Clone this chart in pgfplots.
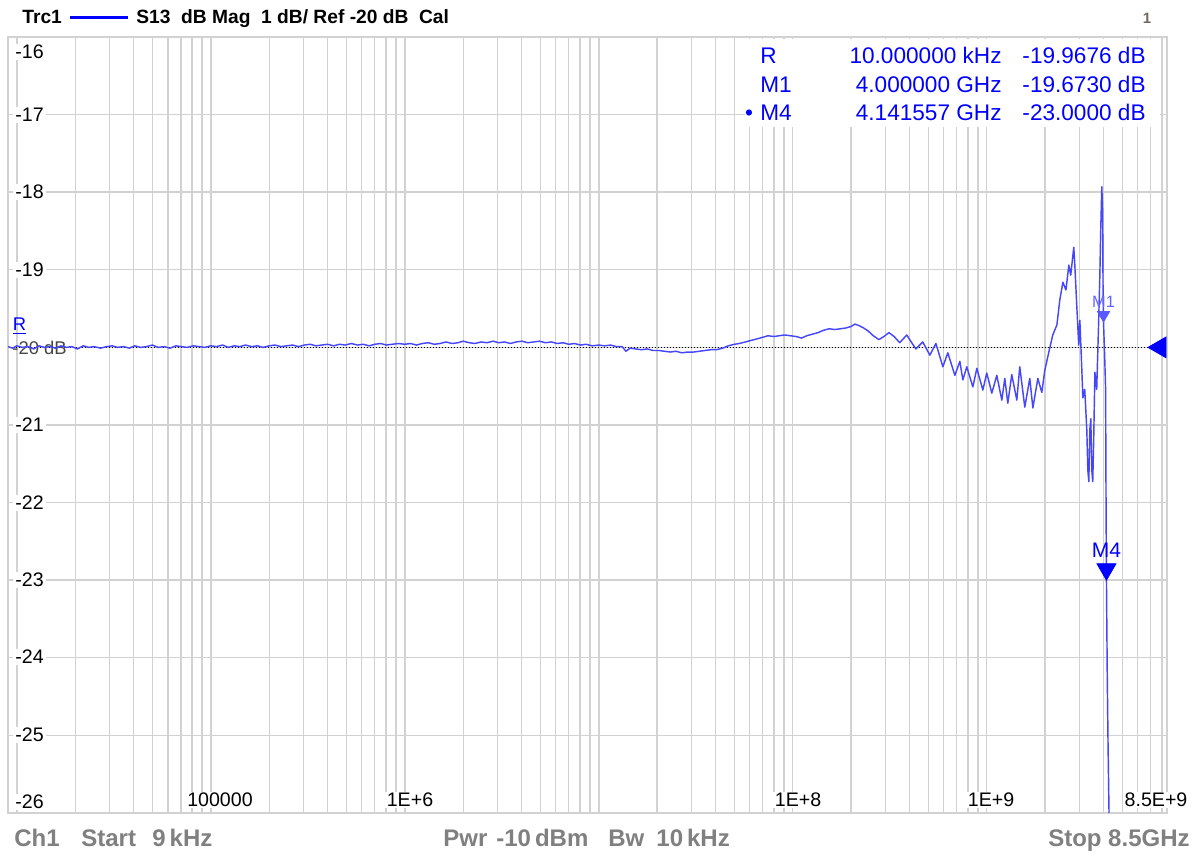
\documentclass[border=0pt]{standalone}
\usepackage{fontspec}
\setmainfont{Liberation Sans}
\usepackage{pgfplots}
\usepackage{pgfplotstable}
\pgfplotsset{compat=1.18}
\definecolor{trace}{RGB}{70,70,250}
\definecolor{mblue}{RGB}{0,0,255}
\definecolor{gridc}{RGB}{210,210,210}
\definecolor{botgray}{RGB}{128,128,128}
\definecolor{refgray}{RGB}{70,70,70}
\definecolor{chnum}{RGB}{115,105,95}

% S13 trace: frequency (Hz), magnitude (dB)
\pgfplotstableread{
f db
9e3 -19.99
9.5e3 -20.01
1.0e4 -19.98
1.07e4 -20.00
1.14e4 -19.99
1.22e4 -20.02
1.3e4 -19.98
1.39e4 -20.00
1.48e4 -19.99
1.58e4 -20.01
1.69e4 -19.98
1.8e4 -20.00
1.92e4 -19.99
2.05e4 -20.02
2.2e4 -19.98
2.35e4 -20.00
2.5e4 -19.99
2.7e4 -20.01
2.9e4 -19.99
3.1e4 -19.98
3.3e4 -20.00
3.55e4 -19.99
3.8e4 -20.01
4.05e4 -19.98
4.35e4 -20.00
4.65e4 -19.99
5.0e4 -19.97
5.35e4 -20.00
5.75e4 -19.99
6.15e4 -20.01
6.6e4 -19.98
7.05e4 -19.99
7.55e4 -20.00
8.1e4 -19.98
8.7e4 -19.99
9.3e4 -20.00
1.0e5 -19.98
1.07e5 -19.99
1.15e5 -19.97
1.23e5 -20.00
1.32e5 -19.98
1.41e5 -19.99
1.51e5 -19.97
1.62e5 -19.99
1.74e5 -19.98
1.86e5 -20.00
2.0e5 -19.98
2.14e5 -19.97
2.3e5 -19.99
2.46e5 -19.98
2.64e5 -19.97
2.83e5 -19.99
3.03e5 -19.97
3.25e5 -19.96
3.48e5 -19.98
3.73e5 -19.97
4.0e5 -19.96
4.3e5 -19.98
4.6e5 -19.96
4.93e5 -19.97
5.3e5 -19.95
5.7e5 -19.97
6.1e5 -19.96
6.55e5 -19.98
7.0e5 -19.96
7.5e5 -19.95
8.05e5 -19.97
8.6e5 -19.96
9.25e5 -19.95
1.0e6 -19.96
1.07e6 -19.95
1.15e6 -19.97
1.23e6 -19.95
1.32e6 -19.94
1.42e6 -19.96
1.52e6 -19.95
1.63e6 -19.93
1.75e6 -19.95
1.88e6 -19.94
2.0e6 -19.92
2.15e6 -19.94
2.3e6 -19.95
2.47e6 -19.93
2.65e6 -19.94
2.85e6 -19.92
3.05e6 -19.94
3.27e6 -19.93
3.5e6 -19.95
3.75e6 -19.93
4.02e6 -19.92
4.3e6 -19.94
4.62e6 -19.93
4.95e6 -19.92
5.3e6 -19.94
5.7e6 -19.93
6.1e6 -19.95
6.55e6 -19.94
7.0e6 -19.96
7.5e6 -19.95
8.05e6 -19.97
8.6e6 -19.96
9.25e6 -19.98
1.0e7 -19.97
1.07e7 -19.98
1.15e7 -19.97
1.23e7 -19.99
1.32e7 -19.99
1.38e7 -20.05
1.45e7 -20.01
1.55e7 -20.02
1.66e7 -20.03
1.78e7 -20.02
1.9e7 -20.04
2.04e7 -20.04
2.18e7 -20.05
2.34e7 -20.06
2.5e7 -20.05
2.68e7 -20.07
2.87e7 -20.06
3.08e7 -20.06
3.3e7 -20.05
3.53e7 -20.04
3.78e7 -20.03
4.05e7 -20.03
4.35e7 -20.01
4.65e7 -19.98
5.0e7 -19.96
5.3e7 -19.95
5.7e7 -19.93
6.1e7 -19.91
6.55e7 -19.89
7.0e7 -19.87
7.45e7 -19.85
8.0e7 -19.86
8.5e7 -19.85
9.1e7 -19.84
9.7e7 -19.85
1.04e8 -19.86
1.11e8 -19.88
1.18e8 -19.85
1.26e8 -19.83
1.35e8 -19.81
1.44e8 -19.78
1.54e8 -19.76
1.65e8 -19.77
1.76e8 -19.76
1.88e8 -19.75
2.0e8 -19.73
2.09e8 -19.70
2.2e8 -19.72
2.32e8 -19.75
2.45e8 -19.79
2.6e8 -19.85
2.78e8 -19.90
2.95e8 -19.86
3.13e8 -19.81
3.33e8 -19.86
3.56e8 -19.94
3.87e8 -19.84
4.08e8 -19.93
4.31e8 -20.02
4.68e8 -19.93
5.09e8 -20.10
5.47e8 -19.95
5.94e8 -20.25
6.30e8 -20.07
6.85e8 -20.36
7.27e8 -20.18
7.53e8 -20.42
7.89e8 -20.25
8.48e8 -20.51
8.89e8 -20.27
9.55e8 -20.55
1.0e9 -20.33
1.062e9 -20.59
1.127e9 -20.36
1.196e9 -20.68
1.239e9 -20.40
1.284e9 -20.72
1.346e9 -20.35
1.429e9 -20.68
1.480e9 -20.25
1.571e9 -20.77
1.667e9 -20.40
1.729e9 -20.78
1.834e9 -20.40
1.923e9 -20.58
1.991e9 -20.30
2.09e9 -20.06
2.19e9 -19.84
2.30e9 -19.71
2.38e9 -19.39
2.47e9 -19.16
2.56e9 -19.26
2.65e9 -18.94
2.71e9 -19.07
2.81e9 -18.71
2.84e9 -18.90
2.91e9 -19.45
2.98e9 -19.97
3.02e9 -19.65
3.09e9 -20.27
3.13e9 -20.65
3.20e9 -20.54
3.28e9 -21.06
3.32e9 -21.58
3.36e9 -21.73
3.40e9 -21.06
3.44e9 -20.92
3.48e9 -21.58
3.52e9 -21.73
3.56e9 -21.19
3.61e9 -20.32
3.69e9 -20.54
3.78e9 -19.62
3.83e9 -19.07
3.87e9 -18.49
3.92e9 -17.93
3.96e9 -18.26
3.98e9 -19.35
4.0e9 -19.673
4.06e9 -20.16
4.10e9 -20.54
4.12e9 -21.90
4.141557e9 -23.00
4.18e9 -24.20
4.22e9 -25.10
4.27e9 -26.00
4.35e9 -27.00
}\tracedata

\begin{document}
\begin{tikzpicture}[x=0.5pt,y=0.5pt]
\useasboundingbox (0,0) rectangle (1198,854);
\fill[white] (0,0) rectangle (1198,854);

\begin{axis}[
  at={(4pt,20.5pt)}, anchor=south west,
  scale only axis, width=579.5pt, height=388pt,
  xmode=log, xmin=9e3, xmax=8.5e9, ymin=-26, ymax=-16,
  xtick={1e4,1e5,1e6,1e7,1e8,1e9},
  minor xtick={2e4,3e4,4e4,5e4,6e4,7e4,8e4,9e4,
               2e5,3e5,4e5,5e5,6e5,7e5,8e5,9e5,
               2e6,3e6,4e6,5e6,6e6,7e6,8e6,9e6,
               2e7,3e7,4e7,5e7,6e7,7e7,8e7,9e7,
               2e8,3e8,4e8,5e8,6e8,7e8,8e8,9e8,
               2e9,3e9,4e9,5e9,6e9,7e9,8e9},
  ytick={-25,-24,-23,-22,-21,-20,-19,-18,-17},
  xticklabels={}, yticklabels={},
  major tick length=0pt, minor tick length=0pt,
  grid=both,
  major grid style={gridc, line width=0.7pt},
  minor grid style={gridc, line width=0.7pt},
  axis line style={gridc, line width=0.8pt},
]
\addplot[black, line width=0.45pt, dash pattern=on 0.6pt off 0.9pt] coordinates {(9.5e3,-20) (8.5e9,-20)};
\node[anchor=base west, inner sep=0pt, text=refgray, font=\fontsize{9.2}{10}\selectfont, xshift=2pt, yshift=-3.8pt] at (axis cs:9e3,-20) {-20 dB};
\node[anchor=base west, inner sep=0pt, text=mblue, font=\fontsize{9.2}{10}\selectfont, xshift=2.2pt, yshift=8.2pt] at (axis cs:9e3,-20) {\underline{R}};
\addplot[trace, line width=0.72pt, line join=round] table[x=f, y=db] {\tracedata};
\addplot[only marks, mark=triangle*, mark size=3.5pt, color=mblue!65, mark options={yshift=3.5pt, rotate=180}] coordinates {(4e9,-19.673)};
\addplot[only marks, mark=triangle*, mark size=5.5pt, color=mblue, mark options={yshift=5.5pt, rotate=180}] coordinates {(4.141557e9,-23)};
\addplot[only marks, mark=triangle*, mark size=6pt, color=mblue, mark options={xshift=-3.5pt, rotate=90}] coordinates {(8.5e9,-20)};
\node[text=mblue!60, inner sep=0pt, font=\fontsize{8.2}{9}\selectfont, yshift=10pt] at (axis cs:4e9,-19.673) {M1};
\node[text=mblue, inner sep=0pt, font=\fontsize{10.5}{12}\selectfont, yshift=15pt] at (axis cs:4.141557e9,-23) {M4};
\end{axis}

% header
\node[anchor=base west, inner sep=0pt, font=\fontsize{9.6}{11}\selectfont\bfseries] at (22,830) {Trc1};
\draw[mblue, line width=1.5pt] (70,836) -- (128,836);
\node[anchor=base west, inner sep=0pt, font=\fontsize{9.6}{11}\selectfont\bfseries] at (136,830) {S13\ \ dB Mag\ \ 1 dB/ Ref -20 dB\ \ Cal};
\node[anchor=base, inner sep=0pt, text=chnum, font=\fontsize{7.5}{9}\selectfont\bfseries] at (1147,830) {1};

% marker table
\fill[white] (745,727) rectangle (1160,815);
\begin{scope}[every node/.style={inner sep=0pt, text=mblue, font=\fontsize{11.3}{13}\selectfont}]
\node[anchor=base west] at (760,790) {R};
\node[anchor=base east] at (1002,790) {10.000000 kHz};
\node[anchor=base east] at (1146,790) {-19.9676 dB};
\node[anchor=base west] at (760,761) {M1};
\node[anchor=base east] at (1002,761) {4.000000 GHz};
\node[anchor=base east] at (1146,761) {-19.6730 dB};
\node[anchor=base] at (749,733) {•};
\node[anchor=base west] at (760,733) {M4};
\node[anchor=base east] at (1002,733) {4.141557 GHz};
\node[anchor=base east] at (1146,733) {-23.0000 dB};
\end{scope}

% y labels
\begin{scope}[every node/.style={anchor=west, fill=white, inner xsep=1pt, inner ysep=0.5pt, font=\fontsize{9.8}{11}\selectfont}]
\node at (13,802) {-16};
\node at (13,739) {-17};
\node at (13,662) {-18};
\node at (13,584) {-19};
\node at (13,429) {-21};
\node at (13,351) {-22};
\node at (13,274) {-23};
\node at (13,197) {-24};
\node at (13,119) {-25};
\node at (13,52) {-26};
\end{scope}

% x labels
\begin{scope}[every node/.style={anchor=center, fill=white, inner xsep=1pt, inner ysep=0.5pt, font=\fontsize{9.8}{11}\selectfont}]
\node at (220,54) {100000};
\node at (410,54) {1E+6};
\node at (798,54) {1E+8};
\node at (991,54) {1E+9};
\node at (1156,54) {8.5E+9};
\end{scope}

% bottom status bar
\begin{scope}[every node/.style={anchor=base west, inner sep=0pt, text=botgray, font=\fontsize{12}{14}\selectfont\bfseries}]
\node at (14,7) {Ch1};
\node at (81,7) {Start};
\node at (152,7) {9\,kHz};
\node at (443,7) {Pwr};
\node at (496,7) {-10\,dBm};
\node at (608,7) {Bw};
\node at (656,7) {10\,kHz};
\node[anchor=base east] at (1190,7) {Stop 8.5GHz};
\end{scope}
\end{tikzpicture}
\end{document}
